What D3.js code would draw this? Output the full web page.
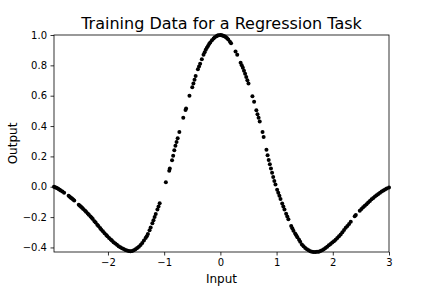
<!DOCTYPE html>
<html><head><meta charset="utf-8">
<script src="https://cdn.jsdelivr.net/npm/d3@7"></script>
<style>body{margin:0;background:#fff}svg{display:block}</style>
</head><body>
<script>
const inputs = [-2.96,-2.94,-2.92,-2.90,-2.88,-2.86,-2.84,-2.81,-2.78,-2.70,-2.68,-2.66,-2.64,-2.62,-2.60,-2.52,-2.50,-2.48,-2.46,-2.44,-2.41,-2.39,-2.36,-2.34,-2.31,-2.29,-2.27,-2.24,-2.22,-2.19,-2.17,-2.14,-2.12,-2.09,-2.06,-2.03,-2.01,-1.98,-1.95,-1.93,-1.90,-1.87,-1.84,-1.81,-1.78,-1.75,-1.72,-1.69,-1.66,-1.63,-1.60,-1.57,-1.54,-1.51,-1.48,-1.45,-1.42,-1.39,-1.36,-1.33,-1.31,-1.29,-1.26,-1.24,-1.21,-1.19,-1.17,-1.15,-1.12,-1.10,-1.08,-0.97,-0.91,-0.90,-0.86,-0.84,-0.82,-0.80,-0.78,-0.76,-0.73,-0.66,-0.62,-0.61,-0.55,-0.50,-0.48,-0.46,-0.44,-0.40,-0.38,-0.36,-0.33,-0.30,-0.28,-0.26,-0.24,-0.22,-0.20,-0.18,-0.15,-0.12,-0.10,-0.07,-0.05,-0.03,0.00,0.02,0.04,0.06,0.08,0.10,0.12,0.14,0.17,0.19,0.27,0.30,0.36,0.38,0.40,0.42,0.44,0.46,0.48,0.50,0.57,0.60,0.64,0.66,0.68,0.70,0.75,0.77,0.82,0.84,0.86,0.88,0.90,0.92,0.94,0.96,0.98,1.01,1.03,1.05,1.07,1.10,1.12,1.14,1.17,1.19,1.21,1.26,1.28,1.30,1.33,1.35,1.37,1.40,1.42,1.45,1.48,1.51,1.54,1.57,1.60,1.63,1.66,1.69,1.72,1.75,1.78,1.81,1.84,1.87,1.90,1.93,1.96,1.99,2.02,2.05,2.08,2.11,2.14,2.17,2.20,2.23,2.26,2.29,2.32,2.39,2.41,2.48,2.51,2.54,2.57,2.60,2.63,2.66,2.69,2.72,2.75,2.78,2.81,2.84,2.87,2.90,2.93,2.96,3.00];
const outputs = [0.000,-0.003,-0.007,-0.010,-0.015,-0.020,-0.025,-0.032,-0.040,-0.060,-0.066,-0.072,-0.078,-0.084,-0.090,-0.118,-0.125,-0.132,-0.139,-0.146,-0.156,-0.164,-0.176,-0.184,-0.196,-0.204,-0.213,-0.227,-0.236,-0.250,-0.259,-0.272,-0.281,-0.294,-0.306,-0.318,-0.326,-0.337,-0.348,-0.355,-0.365,-0.374,-0.383,-0.392,-0.399,-0.406,-0.411,-0.416,-0.420,-0.423,-0.425,-0.423,-0.419,-0.412,-0.404,-0.395,-0.384,-0.370,-0.355,-0.338,-0.326,-0.312,-0.287,-0.268,-0.240,-0.220,-0.200,-0.180,-0.150,-0.130,-0.108,0.030,0.105,0.120,0.175,0.205,0.240,0.270,0.295,0.320,0.360,0.455,0.505,0.515,0.600,0.655,0.680,0.705,0.730,0.775,0.793,0.811,0.840,0.870,0.886,0.902,0.916,0.928,0.940,0.950,0.965,0.977,0.985,0.992,0.996,0.998,1.000,0.999,0.997,0.994,0.990,0.985,0.978,0.970,0.956,0.946,0.892,0.870,0.817,0.801,0.785,0.765,0.745,0.724,0.702,0.680,0.596,0.560,0.504,0.478,0.454,0.430,0.360,0.328,0.244,0.208,0.176,0.148,0.120,0.092,0.064,0.038,0.014,-0.020,-0.040,-0.060,-0.080,-0.110,-0.130,-0.150,-0.178,-0.196,-0.214,-0.258,-0.274,-0.290,-0.308,-0.320,-0.332,-0.350,-0.362,-0.380,-0.392,-0.403,-0.412,-0.419,-0.425,-0.428,-0.430,-0.430,-0.429,-0.428,-0.423,-0.418,-0.412,-0.404,-0.395,-0.386,-0.377,-0.368,-0.359,-0.350,-0.338,-0.326,-0.314,-0.300,-0.285,-0.271,-0.258,-0.245,-0.230,-0.195,-0.186,-0.158,-0.146,-0.135,-0.125,-0.115,-0.104,-0.094,-0.083,-0.074,-0.065,-0.056,-0.047,-0.040,-0.032,-0.025,-0.018,-0.012,-0.005];
const xTicks = [-2,-1,0,1,2,3];
const yTicks = [-0.4,-0.2,0.0,0.2,0.4,0.6,0.8,1.0];
const title = "Training Data for a Regression Task";
const xLabel = "Input", yLabel = "Output";

const W = 432, H = 288;
const m = {left:54, right:43, top:35, bottom:36};
const font = "'DejaVu Sans', sans-serif";
const svg = d3.select("body").append("svg").attr("width", W).attr("height", H);

const x = d3.scaleLinear().domain(d3.extent(inputs)).range([m.left, W - m.right]);
const y = d3.scaleLinear().domain(d3.extent(outputs)).range([H - m.bottom, m.top]);

const data = inputs.map((v, i) => [v, outputs[i]]);

svg.append("g").selectAll("circle").data(data).join("circle")
  .attr("cx", d => x(d[0])).attr("cy", d => y(d[1])).attr("r", 2)
  .attr("fill", "#000");

const xAxis = svg.append("g").attr("transform", `translate(0,${H - m.bottom})`)
  .call(d3.axisBottom(x).tickValues(xTicks).tickFormat(d3.format("d")).tickSize(3.5).tickPadding(3.5));
const yAxis = svg.append("g").attr("transform", `translate(${m.left},0)`)
  .call(d3.axisLeft(y).tickValues(yTicks).tickFormat(d3.format(".1f")).tickSize(3.5).tickPadding(3.5));
[xAxis, yAxis].forEach(a => {
  a.select(".domain").remove();
  a.selectAll("text").attr("font-family", font).attr("font-size", 10).attr("fill", "#000");
  a.selectAll("line").attr("stroke", "#000").attr("stroke-width", 0.8);
});

svg.append("rect").attr("x", m.left).attr("y", m.top)
  .attr("width", W - m.left - m.right).attr("height", H - m.top - m.bottom)
  .attr("fill", "none").attr("stroke", "#000").attr("stroke-width", 0.8);

svg.append("text").attr("x", (m.left + W - m.right) / 2).attr("y", 29)
  .attr("text-anchor", "middle").attr("font-family", font).attr("font-size", 16).text(title);
svg.append("text").attr("x", (m.left + W - m.right) / 2).attr("y", 283)
  .attr("text-anchor", "middle").attr("font-family", font).attr("font-size", 12).text(xLabel);
svg.append("text").attr("transform", `translate(17,${(m.top + H - m.bottom) / 2}) rotate(-90)`)
  .attr("text-anchor", "middle").attr("font-family", font).attr("font-size", 12).text(yLabel);
</script>
</body></html>
